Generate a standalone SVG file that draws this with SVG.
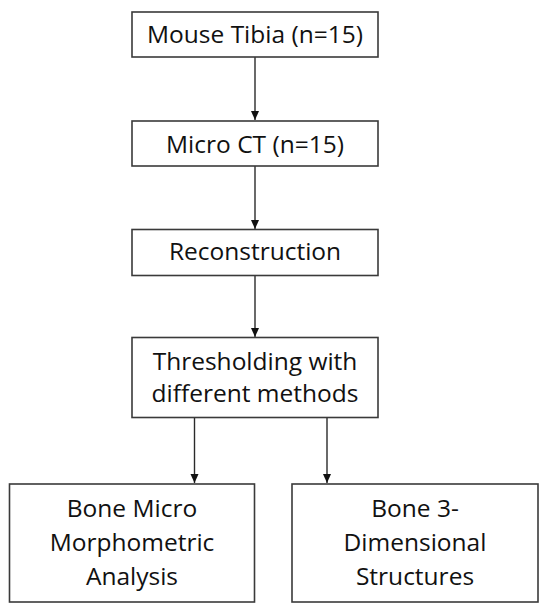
<svg xmlns="http://www.w3.org/2000/svg" width="550" height="606" viewBox="0 0 550 606">
<style>
.box{fill:#fff;stroke:#3a3a3a;stroke-width:1.6}
.t{font-family:"Open Sans","Liberation Sans",sans-serif;font-size:24.5px;fill:#111;text-anchor:middle}
.c{stroke:#2a2a2a;stroke-width:1.4;fill:none}
</style>
<defs>
<marker id="ah" markerWidth="10" markerHeight="10" refX="9" refY="5" orient="auto" markerUnits="userSpaceOnUse">
<path d="M0,1 L9,5 L0,9 Z" fill="#111"/>
</marker>
</defs>
<rect width="550" height="606" fill="#fff"/>
<g id="connectors">
<line class="c" x1="255" y1="57" x2="255" y2="120" marker-end="url(#ah)"/>
<line class="c" x1="255" y1="166" x2="255" y2="229" marker-end="url(#ah)"/>
<line class="c" x1="255" y1="275" x2="255" y2="337" marker-end="url(#ah)"/>
<line class="c" x1="194.5" y1="418" x2="194.5" y2="483" marker-end="url(#ah)"/>
<line class="c" x1="327" y1="418" x2="327" y2="483" marker-end="url(#ah)"/>
</g>
<g id="n1"><rect class="box" x="132" y="12" width="246" height="45"/><text class="t" x="255" y="43">Mouse Tibia (n=15)</text></g>
<g id="n2"><rect class="box" x="132" y="121" width="246" height="45"/><text class="t" x="255" y="152.5">Micro CT (n=15)</text></g>
<g id="n3"><rect class="box" x="132" y="229.5" width="246" height="46"/><text class="t" x="255" y="260">Reconstruction</text></g>
<g id="n4"><rect class="box" x="132" y="337.5" width="246" height="80"/><text class="t" x="255" y="370">Thresholding with</text><text class="t" x="255" y="401.5">different methods</text></g>
<g id="n5"><rect class="box" x="9.5" y="484" width="245" height="118"/><text class="t" x="132" y="516.5">Bone Micro</text><text class="t" x="132" y="550.5">Morphometric</text><text class="t" x="132" y="585">Analysis</text></g>
<g id="n6"><rect class="box" x="292" y="484" width="246" height="118"/><text class="t" x="415" y="516.5">Bone 3-</text><text class="t" x="415" y="550.5">Dimensional</text><text class="t" x="415" y="585">Structures</text></g>
</svg>
